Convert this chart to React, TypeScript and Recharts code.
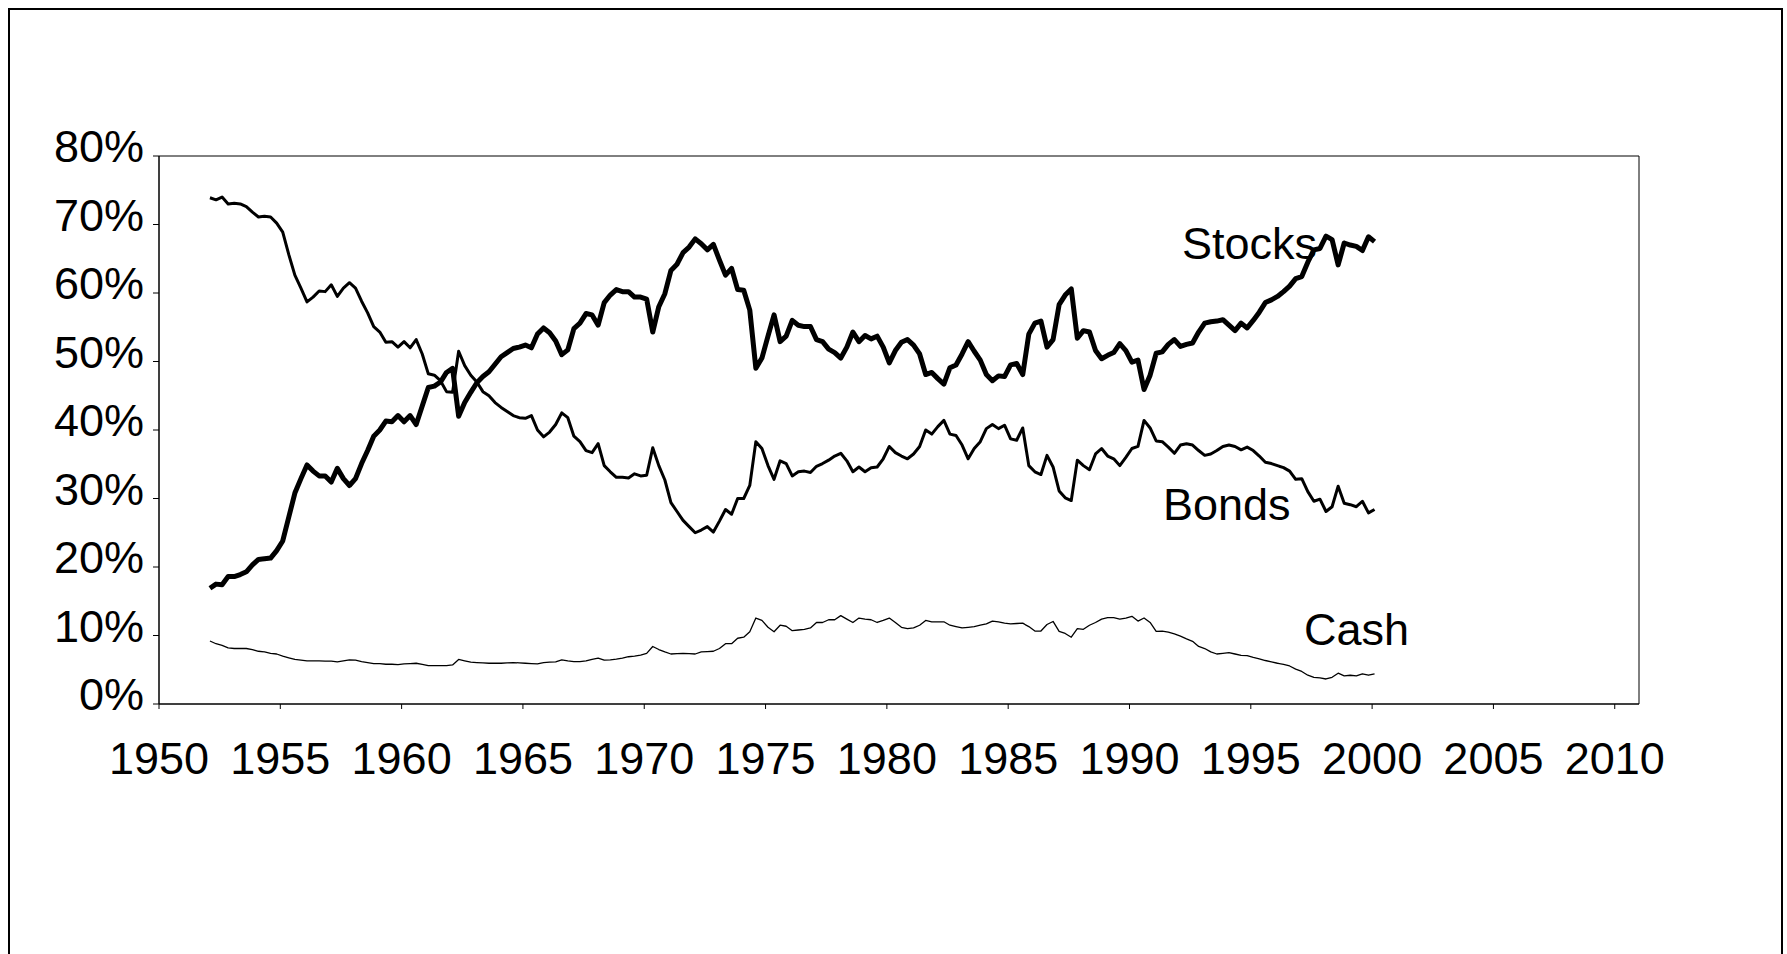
import React from 'react';
import { LineChart, Line, XAxis, YAxis, ReferenceArea, ReferenceDot } from 'recharts';

// quarterly observations, 1952Q1 .. 2000Q1
const quarters = [
  '1952Q1', '1952Q2', '1952Q3', '1952Q4', '1953Q1', '1953Q2', '1953Q3', '1953Q4',
  '1954Q1', '1954Q2', '1954Q3', '1954Q4', '1955Q1', '1955Q2', '1955Q3', '1955Q4',
  '1956Q1', '1956Q2', '1956Q3', '1956Q4', '1957Q1', '1957Q2', '1957Q3', '1957Q4',
  '1958Q1', '1958Q2', '1958Q3', '1958Q4', '1959Q1', '1959Q2', '1959Q3', '1959Q4',
  '1960Q1', '1960Q2', '1960Q3', '1960Q4', '1961Q1', '1961Q2', '1961Q3', '1961Q4',
  '1962Q1', '1962Q2', '1962Q3', '1962Q4', '1963Q1', '1963Q2', '1963Q3', '1963Q4',
  '1964Q1', '1964Q2', '1964Q3', '1964Q4', '1965Q1', '1965Q2', '1965Q3', '1965Q4',
  '1966Q1', '1966Q2', '1966Q3', '1966Q4', '1967Q1', '1967Q2', '1967Q3', '1967Q4',
  '1968Q1', '1968Q2', '1968Q3', '1968Q4', '1969Q1', '1969Q2', '1969Q3', '1969Q4',
  '1970Q1', '1970Q2', '1970Q3', '1970Q4', '1971Q1', '1971Q2', '1971Q3', '1971Q4',
  '1972Q1', '1972Q2', '1972Q3', '1972Q4', '1973Q1', '1973Q2', '1973Q3', '1973Q4',
  '1974Q1', '1974Q2', '1974Q3', '1974Q4', '1975Q1', '1975Q2', '1975Q3', '1975Q4',
  '1976Q1', '1976Q2', '1976Q3', '1976Q4', '1977Q1', '1977Q2', '1977Q3', '1977Q4',
  '1978Q1', '1978Q2', '1978Q3', '1978Q4', '1979Q1', '1979Q2', '1979Q3', '1979Q4',
  '1980Q1', '1980Q2', '1980Q3', '1980Q4', '1981Q1', '1981Q2', '1981Q3', '1981Q4',
  '1982Q1', '1982Q2', '1982Q3', '1982Q4', '1983Q1', '1983Q2', '1983Q3', '1983Q4',
  '1984Q1', '1984Q2', '1984Q3', '1984Q4', '1985Q1', '1985Q2', '1985Q3', '1985Q4',
  '1986Q1', '1986Q2', '1986Q3', '1986Q4', '1987Q1', '1987Q2', '1987Q3', '1987Q4',
  '1988Q1', '1988Q2', '1988Q3', '1988Q4', '1989Q1', '1989Q2', '1989Q3', '1989Q4',
  '1990Q1', '1990Q2', '1990Q3', '1990Q4', '1991Q1', '1991Q2', '1991Q3', '1991Q4',
  '1992Q1', '1992Q2', '1992Q3', '1992Q4', '1993Q1', '1993Q2', '1993Q3', '1993Q4',
  '1994Q1', '1994Q2', '1994Q3', '1994Q4', '1995Q1', '1995Q2', '1995Q3', '1995Q4',
  '1996Q1', '1996Q2', '1996Q3', '1996Q4', '1997Q1', '1997Q2', '1997Q3', '1997Q4',
  '1998Q1', '1998Q2', '1998Q3', '1998Q4', '1999Q1', '1999Q2', '1999Q3', '1999Q4',
  '2000Q1',
];

// share of portfolio, percent
const stocks = [
  16.9, 17.5, 17.4, 18.6, 18.6, 18.9, 19.3, 20.3, 21.1, 21.2,
  21.3, 22.4, 23.8, 27.3, 30.8, 32.9, 34.9, 34.0, 33.3, 33.3,
  32.4, 34.4, 32.9, 31.9, 32.9, 35.1, 37.0, 39.1, 40.0, 41.3,
  41.2, 42.1, 41.2, 42.1, 40.8, 43.5, 46.2, 46.4, 47.0, 48.4,
  49.0, 42.0, 44.0, 45.5, 46.9, 47.8, 48.5, 49.6, 50.7, 51.3,
  51.9, 52.1, 52.4, 52.0, 54.0, 54.9, 54.2, 53.0, 51.0, 51.7,
  54.8, 55.6, 57.0, 56.8, 55.3, 58.6, 59.7, 60.5, 60.2, 60.2,
  59.4, 59.4, 59.1, 54.3, 58.0, 59.9, 63.3, 64.2, 65.9, 66.7,
  67.9, 67.2, 66.3, 67.1, 64.8, 62.6, 63.6, 60.5, 60.4, 57.5,
  49.0, 50.5, 53.7, 56.8, 52.9, 53.7, 56.0, 55.3, 55.1, 55.1,
  53.2, 52.9, 51.8, 51.3, 50.5, 52.1, 54.3, 52.9, 53.8, 53.3,
  53.7, 52.1, 49.8, 51.6, 52.8, 53.2, 52.4, 51.1, 48.1, 48.4,
  47.5, 46.7, 49.1, 49.5, 51.1, 52.9, 51.5, 50.2, 48.1, 47.2,
  47.9, 47.8, 49.5, 49.7, 48.1, 54.0, 55.6, 55.9, 52.1, 53.2,
  58.3, 59.7, 60.6, 53.4, 54.5, 54.3, 51.6, 50.4, 50.9, 51.3,
  52.6, 51.6, 49.9, 50.2, 45.9, 48.0, 51.2, 51.4, 52.5, 53.2,
  52.2, 52.5, 52.7, 54.3, 55.6, 55.8, 55.9, 56.1, 55.3, 54.5,
  55.6, 54.9, 56.0, 57.2, 58.6, 59.0, 59.5, 60.2, 61.0, 62.1,
  62.4, 64.5, 66.3, 66.5, 68.3, 67.8, 64.1, 67.3, 67.0, 66.8,
  66.2, 68.2, 67.5,
];

const bonds = [
  73.9, 73.6, 74.0, 73.0, 73.1, 73.0, 72.6, 71.8, 71.1, 71.2,
  71.1, 70.2, 68.9, 65.6, 62.6, 60.7, 58.7, 59.4, 60.3, 60.2,
  61.2, 59.5, 60.7, 61.5, 60.7, 58.8, 57.1, 55.1, 54.3, 52.8,
  52.9, 52.1, 52.9, 52.0, 53.2, 51.1, 48.2, 48.0, 47.2, 45.6,
  45.5, 51.5, 49.4, 48.0, 47.0, 45.6, 45.0, 44.0, 43.3, 42.7,
  42.1, 41.8, 41.7, 42.1, 40.0, 39.0, 39.7, 40.8, 42.5, 41.8,
  39.1, 38.3, 37.0, 36.7, 38.0, 34.8, 33.9, 33.1, 33.1, 33.0,
  33.6, 33.3, 33.4, 37.4, 34.8, 32.7, 29.4, 28.1, 26.8, 25.9,
  25.0, 25.4, 25.9, 25.1, 26.7, 28.4, 27.7, 30.0, 30.0, 31.9,
  38.3, 37.3, 34.8, 32.8, 35.5, 35.1, 33.3, 33.9, 34.0, 33.8,
  34.7, 35.1, 35.6, 36.2, 36.6, 35.5, 33.9, 34.6, 33.9, 34.5,
  34.6, 35.8, 37.6, 36.7, 36.2, 35.8, 36.5, 37.6, 40.0, 39.4,
  40.5, 41.4, 39.4, 39.2, 37.8, 35.8, 37.3, 38.3, 40.2, 40.8,
  40.2, 40.7, 38.7, 38.5, 40.3, 34.8, 33.9, 33.5, 36.3, 34.6,
  31.1, 30.1, 29.7, 35.6, 34.8, 34.2, 36.5, 37.3, 36.2, 35.8,
  34.8, 36.0, 37.3, 37.6, 41.4, 40.3, 38.4, 38.3, 37.5, 36.6,
  37.8, 38.0, 37.8, 37.0, 36.3, 36.5, 37.0, 37.6, 37.8, 37.6,
  37.1, 37.5, 37.0, 36.2, 35.3, 35.1, 34.8, 34.5, 34.0, 32.8,
  32.9, 31.0, 29.6, 29.9, 28.1, 28.8, 31.8, 29.3, 29.1, 28.8,
  29.6, 27.9, 28.4,
];

const cash = [
  9.2, 8.8, 8.55, 8.2, 8.1, 8.1, 8.1, 7.95, 7.7, 7.6,
  7.4, 7.3, 7.0, 6.75, 6.5, 6.4, 6.3, 6.3, 6.3, 6.25,
  6.25, 6.15, 6.3, 6.45, 6.4, 6.2, 6.05, 5.9, 5.9, 5.8,
  5.8, 5.75, 5.85, 5.9, 5.95, 5.8, 5.6, 5.6, 5.6, 5.6,
  5.7, 6.5, 6.3, 6.1, 6.05, 6.0, 5.95, 5.95, 5.95, 6.0,
  6.05, 6.0, 5.95, 5.9, 5.85, 6.05, 6.1, 6.15, 6.45, 6.3,
  6.2, 6.2, 6.3, 6.5, 6.7, 6.4, 6.45, 6.55, 6.7, 6.9,
  7.0, 7.15, 7.4, 8.4, 7.95, 7.6, 7.3, 7.35, 7.4, 7.35,
  7.3, 7.6, 7.65, 7.7, 8.1, 8.8, 8.8, 9.6, 9.75, 10.55,
  12.55, 12.2, 11.2, 10.55, 11.5, 11.35, 10.7, 10.8, 10.9, 11.1,
  11.9, 11.9, 12.3, 12.3, 12.9, 12.4, 11.9, 12.55, 12.4, 12.3,
  11.9, 12.2, 12.55, 11.9, 11.2, 11.0, 11.1, 11.5, 12.2, 12.0,
  12.0, 12.0, 11.5, 11.3, 11.1, 11.2, 11.3, 11.5, 11.7, 12.1,
  12.0, 11.8, 11.7, 11.75, 11.8, 11.3, 10.65, 10.65, 11.6, 12.05,
  10.6, 10.3, 9.75, 11.0, 10.9, 11.5, 11.9, 12.4, 12.6, 12.6,
  12.4, 12.55, 12.8, 12.1, 12.55, 11.9, 10.6, 10.65, 10.5, 10.25,
  9.9, 9.5, 9.15, 8.4, 8.1, 7.6, 7.3, 7.4, 7.5, 7.3,
  7.1, 7.05, 6.8, 6.6, 6.35, 6.15, 5.95, 5.8, 5.55, 5.1,
  4.75, 4.2, 3.9, 3.8, 3.65, 3.9, 4.5, 4.1, 4.2, 4.1,
  4.4, 4.2, 4.4,
];

const yearTicks = [1950, 1955, 1960, 1965, 1970, 1975, 1980, 1985, 1990, 1995, 2000, 2005, 2010];
const pctTicks = [0, 10, 20, 30, 40, 50, 60, 70, 80];

// series names written next to the lines (year, percent of the text baseline start)
const seriesLabels = [
  { name: 'Stocks', x: 1992.16, y: 64.96 },
  { name: 'Bonds', x: 1991.38, y: 26.86 },
  { name: 'Cash', x: 1997.19, y: 8.61 },
];

// observations sit a little into their quarter on the date axis
const QUARTER_SHIFT = 0.1;
const quarterToYear = (q: string) =>
  Number(q.slice(0, 4)) + (Number(q.slice(5)) - 1) / 4 + QUARTER_SHIFT;

const data = quarters.map((q, i) => ({
  quarter: q,
  t: quarterToYear(q),
  stocks: stocks[i],
  bonds: bonds[i],
  cash: cash[i],
}));

const FONT = '"Liberation Sans", Arial, sans-serif';

const XTick = (props: any) => {
  const { x, y, payload } = props;
  return (
    <text x={x} y={y + 65} textAnchor="middle" fontFamily={FONT} fontSize={45} fill="#000">
      {payload.value}
    </text>
  );
};

const YTick = (props: any) => {
  const { x, y, payload } = props;
  return (
    <text x={x - 9} y={y + 6} textAnchor="end" fontFamily={FONT} fontSize={45} fill="#000">
      {payload.value}%
    </text>
  );
};

const App: React.FC = () => {
  return (
    // fixed so the frame can run past the bottom of the window without a scrollbar
    <div
      style={{
        position: 'fixed',
        top: 8,
        left: 8,
        width: 1775,
        height: 960,
        border: '2px solid #000',
        boxSizing: 'border-box',
        background: '#fff',
      }}
    >
      <LineChart
        width={1765}
        height={940}
        data={data}
        margin={{ top: 146, right: 136, bottom: 186, left: 0 }}
      >
        <ReferenceArea
          x1={1950}
          x2={2011}
          y1={0}
          y2={80}
          fill="none"
          fillOpacity={0}
          stroke="#000"
          strokeWidth={1}
          ifOverflow="visible"
        />
        <XAxis
          type="number"
          dataKey="t"
          domain={[1950, 2011]}
          ticks={yearTicks}
          interval={0}
          tickSize={5}
          tickMargin={0}
          axisLine={{ stroke: '#000' }}
          tickLine={{ stroke: '#000' }}
          tick={<XTick />}
          height={60}
        />
        <YAxis
          type="number"
          domain={[0, 80]}
          ticks={pctTicks}
          interval={0}
          tickSize={6}
          tickMargin={0}
          axisLine={{ stroke: '#000' }}
          tickLine={{ stroke: '#000' }}
          tick={<YTick />}
          width={149}
        />
        <Line
          type="linear"
          dataKey="cash"
          name="Cash"
          stroke="#000"
          strokeWidth={1.3}
          strokeLinejoin="round"
          dot={false}
          activeDot={false}
          isAnimationActive={false}
        />
        <Line
          type="linear"
          dataKey="bonds"
          name="Bonds"
          stroke="#000"
          strokeWidth={3}
          strokeLinejoin="round"
          dot={false}
          activeDot={false}
          isAnimationActive={false}
        />
        <Line
          type="linear"
          dataKey="stocks"
          name="Stocks"
          stroke="#000"
          strokeWidth={5}
          strokeLinejoin="round"
          dot={false}
          activeDot={false}
          isAnimationActive={false}
        />
        {seriesLabels.map((l) => (
          <ReferenceDot
            key={l.name}
            x={l.x}
            y={l.y}
            r={0}
            ifOverflow="visible"
            shape={(p: any) => (
              <text x={p.cx} y={p.cy} fontFamily={FONT} fontSize={45} fill="#000">
                {l.name}
              </text>
            )}
          />
        ))}
      </LineChart>
    </div>
  );
};

export default App;
